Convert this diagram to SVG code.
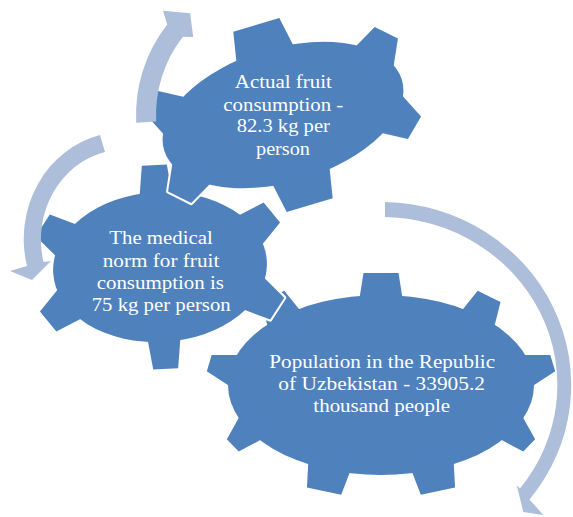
<svg xmlns="http://www.w3.org/2000/svg" xmlns:xlink="http://www.w3.org/1999/xlink" width="573" height="517" viewBox="0 0 573 517">
<style>
.outline{fill:#ffffff;stroke:#ffffff;stroke-width:4;stroke-linejoin:round}
.fill{fill:#4F81BD}
.label{font-family:"Liberation Serif","Times New Roman",serif;font-size:19px;fill:#ffffff;text-anchor:middle}
.arrow{fill:#ADBEDB}
</style>
<defs>
<polygon id="bt-w" points="-10,-22.6 22,-17.5 22,17.5 -10,22.6"/>
<polygon id="bt-m" points="-10,-19.7 22,-12.7 22,12.7 -10,19.7"/>
<polygon id="bt-n" points="-10,-18 22,-8.5 22,8.5 -10,18"/>
<polygon id="mt-top" points="-10,-17.3 27,-12.5 27,12.5 -10,17.3"/>
<polygon id="mt-diag" points="-10,-20.1 24,-13 24,13 -10,20.1"/>
<polygon id="tt-top" points="-10,-30.9 27,-24 27,24 -10,30.9"/>
<polygon id="tt-diag" points="-10,-23.2 22,-13 22,13 -10,23.2"/>
<g id="shape-population" transform="translate(381,385)">
<ellipse cx="0" cy="0" rx="153" ry="90"/>
<use xlink:href="#bt-w" transform="translate(0,-90) rotate(-90)"/>
<use xlink:href="#bt-m" transform="translate(98.35,-68.94) rotate(-63.73)"/>
<use xlink:href="#bt-n" transform="translate(150.67,-15.63) rotate(-16.68)"/>
<use xlink:href="#bt-n" transform="translate(132.5,45) rotate(44.46)"/>
<use xlink:href="#bt-w" transform="translate(52.33,84.57) rotate(77.92)"/>
<use xlink:href="#bt-w" transform="translate(-52.33,84.57) rotate(102.08)"/>
<use xlink:href="#bt-n" transform="translate(-132.5,45) rotate(135.54)"/>
<use xlink:href="#bt-n" transform="translate(-150.67,-15.63) rotate(196.68)"/>
<use xlink:href="#bt-m" transform="translate(-98.35,-68.94) rotate(243.73)"/>
</g>
<g id="shape-norm" transform="translate(160,267) rotate(-3.2)">
<ellipse cx="0" cy="0" rx="107" ry="75"/>
<use xlink:href="#mt-top" transform="translate(0,-75) rotate(-90)"/>
<use xlink:href="#mt-diag" transform="translate(95.3,-34.05) rotate(-36)"/>
<use xlink:href="#mt-diag" transform="translate(95.3,34.05) rotate(36)"/>
<use xlink:href="#mt-top" transform="translate(0,75) rotate(90)"/>
<use xlink:href="#mt-diag" transform="translate(-95.3,34.05) rotate(144)"/>
<use xlink:href="#mt-diag" transform="translate(-95.3,-34.05) rotate(-144)"/>
</g>
<g id="shape-actual" transform="translate(283,115) rotate(-16.5)">
<ellipse cx="0" cy="0" rx="124" ry="67"/>
<use xlink:href="#tt-top" transform="translate(0,-67) rotate(-90)"/>
<use xlink:href="#tt-diag" transform="translate(107.4,-33.5) rotate(-46.9)"/>
<use xlink:href="#tt-diag" transform="translate(107.4,33.5) rotate(46.9)"/>
<use xlink:href="#tt-top" transform="translate(0,67) rotate(90)"/>
<use xlink:href="#tt-diag" transform="translate(-107.4,33.5) rotate(133.1)"/>
<use xlink:href="#tt-diag" transform="translate(-107.4,-33.5) rotate(-133.1)"/>
</g>
</defs>
<rect x="0" y="0" width="573" height="517" fill="#ffffff"/>
<g id="node-population">
<use xlink:href="#shape-population" class="outline"/>
<use xlink:href="#shape-population" class="fill"/>
<text class="label" x="382.2" y="368.3" textLength="225.7" lengthAdjust="spacingAndGlyphs">Population in the Republic</text>
<text class="label" x="381.7" y="390" textLength="206.7" lengthAdjust="spacingAndGlyphs">of Uzbekistan - 33905.2</text>
<text class="label" x="381.7" y="411.7" textLength="136.7" lengthAdjust="spacingAndGlyphs">thousand people</text>
</g>
<g id="node-norm">
<use xlink:href="#shape-norm" class="outline"/>
<use xlink:href="#shape-norm" class="fill"/>
<text class="label" x="161" y="244.3" textLength="103.4" lengthAdjust="spacingAndGlyphs">The medical</text>
<text class="label" x="161" y="266.5" textLength="116.6" lengthAdjust="spacingAndGlyphs">norm for fruit</text>
<text class="label" x="160.3" y="288.5" textLength="127.3" lengthAdjust="spacingAndGlyphs">consumption is</text>
<text class="label" x="161.2" y="310.7" textLength="139" lengthAdjust="spacingAndGlyphs">75 kg per person</text>
</g>
<g id="node-actual">
<use xlink:href="#shape-actual" class="outline"/>
<use xlink:href="#shape-actual" class="fill"/>
<text class="label" x="283.3" y="87.5" textLength="97" lengthAdjust="spacingAndGlyphs">Actual fruit</text>
<text class="label" x="283.3" y="110.5" textLength="120" lengthAdjust="spacingAndGlyphs">consumption -</text>
<text class="label" x="283.3" y="132" textLength="93.3" lengthAdjust="spacingAndGlyphs">82.3 kg per</text>
<text class="label" x="283" y="154.5" textLength="54" lengthAdjust="spacingAndGlyphs">person</text>
</g>
<g id="connectors">
<path class="arrow" d="M136.2,122.7 A147,147 0 0 1 167.2,24.5 L163,10.7 L190.1,13.2 L193.2,36.9 L182.9,36.8 A127,127 0 0 0 156.2,121.6 Z"/>
<path class="arrow" d="M100,135 A100,107 0 0 0 27,266 L10,271 L32,280 L51,261 L43.5,262 A83,90 0 0 1 105,152 Z"/>
<path class="arrow" d="M385,202 A190,183 0 0 1 529.5,499.4 L543.3,515 L523.3,512 L516.7,485 L519.9,488.6 A176,168 0 0 0 385,217 Z"/>
</g>
</svg>
